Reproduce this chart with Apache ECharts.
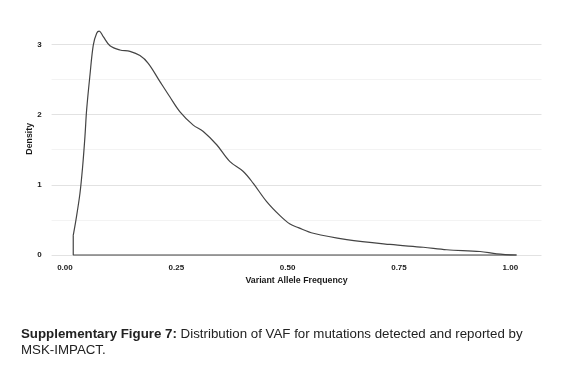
<!DOCTYPE html>
<html>
<head>
<meta charset="utf-8">
<script src="https://cdn.jsdelivr.net/npm/echarts@6/dist/echarts.min.js"></script>
<style>
html,body{margin:0;padding:0;background:#fff;}
#chart{width:580px;height:365px;}
</style>
</head>
<body>
<div id="chart"></div>
<script>
// Density curve (VAF vs density)
const vaf = [0.0186, 0.0247, 0.0337, 0.0397, 0.0449, 0.0487, 0.0561, 0.0636, 0.0712, 0.0770, 0.0860, 0.1011, 0.1235, 0.146, 0.1684, 0.187, 0.2133, 0.2358, 0.2583, 0.288, 0.3106, 0.3407, 0.3705, 0.4004, 0.4229, 0.4529, 0.4828, 0.5053, 0.524, 0.5576, 0.6326, 0.7298, 0.8046, 0.8572, 0.932, 0.9695, 1.014];
const density = [0.28, 0.50, 0.88, 1.26, 1.69, 2.07, 2.56, 2.99, 3.16, 3.19, 3.11, 2.98, 2.92, 2.90, 2.84, 2.73, 2.47, 2.25, 2.04, 1.85, 1.76, 1.57, 1.33, 1.19, 1.02, 0.76, 0.56, 0.44, 0.39, 0.31, 0.22, 0.15, 0.11, 0.075, 0.05, 0.017, 0];
// Closing outline of the density polygon (baseline and left edge)
const baseX = [1.014, 0.0186, 0.0186];
const baseY = [0, 0, 0.28];
const xTicks = [0, 0.25, 0.5, 0.75, 1.0];
const yTicks = [0, 1, 2, 3];
const yGrid = [0, 0.5, 1, 1.5, 2, 2.5, 3];

const curve = vaf.map((v, i) => [v, density[i]]);
const base = baseX.map((v, i) => [v, baseY[i]]);

const chart = echarts.init(document.getElementById('chart'), null, {renderer: 'canvas'});
const lab = {fontFamily: 'Liberation Sans, Arial, sans-serif', fontSize: 8, fontWeight: 'bold', color: '#1a1a1a'};
const ttl = {fontFamily: 'Liberation Sans, Arial, sans-serif', fontSize: 8.8, fontWeight: 'bold', color: '#1a1a1a'};
chart.setOption({
  animation: false,
  backgroundColor: '#fff',
  grid: {left: 51.6, right: 38.5, top: 19.1, bottom: 106.5, containLabel: false},
  xAxis: {
    type: 'value', min: -0.03, max: 1.07,
    axisLine: {show: false}, axisTick: {show: false},
    splitLine: {show: false},
    axisLabel: Object.assign({customValues: xTicks, margin: 5, formatter: v => v.toFixed(2)}, lab),
    name: 'Variant Allele Frequency', nameLocation: 'middle', nameGap: 18, nameMoveOverlap: false,
    nameTextStyle: ttl
  },
  yAxis: {
    type: 'value', min: -0.05, max: 3.36,
    axisLine: {show: false},
    axisTick: {show: false, customValues: yGrid},
    splitLine: {show: true, showMinLine: true, showMaxLine: true, lineStyle: {color: ['#e2e2e2', '#f3f3f3'], width: 1}},
    axisLabel: Object.assign({customValues: yTicks, margin: 10}, lab),
    name: 'Density', nameLocation: 'middle', nameGap: 18, nameRotate: 90, nameMoveOverlap: false,
    nameTextStyle: ttl
  },
  series: [
    {type: 'line', data: curve, smooth: 0.35, showSymbol: false, symbol: 'none',
     lineStyle: {color: '#444', width: 1.2}, z: 3},
    {type: 'line', data: base, smooth: false, showSymbol: false, symbol: 'none',
     lineStyle: {color: '#444', width: 1.2}, z: 3}
  ],
  graphic: [
    {type: 'text', left: 21, top: 326,
     style: {text: '{b|Supplementary Figure 7:} Distribution of VAF for mutations detected and reported by\nMSK-IMPACT.',
       font: '13.3px "Liberation Sans", Arial, sans-serif', fill: '#222', lineHeight: 16,
       rich: {b: {fontWeight: 'bold', fontSize: 13.3, fontFamily: 'Liberation Sans, Arial, sans-serif', fill: '#222', lineHeight: 16}}}}
  ]
});
</script>
</body>
</html>
